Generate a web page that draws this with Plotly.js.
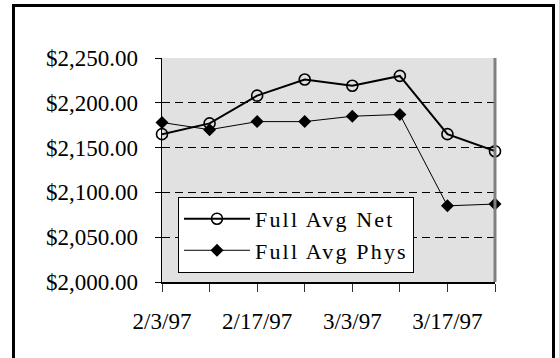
<!DOCTYPE html>
<html>
<head>
<meta charset="utf-8">
<script src="https://cdn.plot.ly/plotly-3.0.1.min.js"></script>
<style>
  html, body { margin: 0; padding: 0; background: #fff; overflow: hidden; }
  #wrap { position: relative; width: 559px; height: 358px; }
  #chart { position: absolute; left: 0; top: 0; width: 559px; height: 358px; }
  #frame {
    position: absolute; left: 12px; top: 4px; width: 537px; height: 370px;
    border: 3px solid #000; border-bottom: none; pointer-events: none;
  }
  /* looser tracking for the legend labels */
  .legendtext { letter-spacing: 2.2px; }
</style>
</head>
<body>
<div id="wrap">
  <div id="chart"></div>
  <div id="frame"></div>
</div>
<script>
// Weekly dates and tick labels (every other week labelled)
const weeks = ['2/3/97', '2/10/97', '2/17/97', '2/24/97', '3/3/97', '3/10/97', '3/17/97', '3/24/97'];
const weekLabels = ['2/3/97', '', '2/17/97', '', '3/3/97', '', '3/17/97', ''];

// Average values per week
const fullAvgNet = [2165, 2177, 2208, 2226, 2219, 2230, 2165, 2146];
const fullAvgPhys = [2178, 2170, 2179, 2179, 2185, 2187, 2085, 2087];

const serif = "'Liberation Serif', 'Times New Roman', Times, serif";

const traces = [
  {
    name: 'Full Avg Net',
    x: weeks,
    y: fullAvgNet,
    type: 'scatter',
    mode: 'lines+markers',
    cliponaxis: false,
    line: { color: '#000', width: 2 },
    marker: { symbol: 'circle-open', size: 11, color: '#000', line: { color: '#000', width: 1.6 } }
  },
  {
    name: 'Full Avg Phys',
    x: weeks,
    y: fullAvgPhys,
    type: 'scatter',
    mode: 'lines+markers',
    cliponaxis: false,
    line: { color: '#000', width: 1 },
    marker: { symbol: 'diamond', size: 10, color: '#000' }
  }
];

const layout = {
  width: 559,
  height: 358,
  margin: { l: 162, r: 64, t: 58, b: 76 },
  paper_bgcolor: '#fff',
  plot_bgcolor: '#e1e1e1',
  font: { family: serif, size: 23, color: '#000' },
  showlegend: true,
  legend: {
    x: 0.048, y: 0.38, xanchor: 'left', yanchor: 'top',
    bgcolor: '#fff', bordercolor: '#000', borderwidth: 1,
    font: { family: serif, size: 22, color: '#000' },
    itemwidth: 66
  },
  xaxis: {
    type: 'category',
    range: [0, 7],
    tickvals: weeks,
    ticktext: weekLabels,
    ticks: 'outside',
    ticklen: 8,
    tickwidth: 1,
    tickcolor: '#333',
    showline: true,
    linecolor: '#000',
    linewidth: 1.5,
    showgrid: false,
    zeroline: false,
    ticklabelstandoff: 10,
    tickfont: { family: serif, size: 23, color: '#000' }
  },
  yaxis: {
    range: [2000, 2250],
    dtick: 50,
    tick0: 2000,
    tickformat: '$,.2f',
    ticks: 'outside',
    ticklen: 6,
    tickwidth: 1,
    tickcolor: '#000',
    showline: true,
    linecolor: '#000',
    linewidth: 1.5,
    showgrid: true,
    gridcolor: '#000',
    gridwidth: 1,
    griddash: '8px,5px',
    zeroline: false,
    ticklabelstandoff: 12,
    tickfont: { family: serif, size: 23, color: '#000' }
  },
  shapes: [
    { type: 'line', xref: 'paper', yref: 'paper', x0: 1, x1: 1, y0: 0, y1: 1,
      line: { color: '#808080', width: 3 } }
  ]
};

Plotly.newPlot('chart', traces, layout, { staticPlot: true, displayModeBar: false });
</script>
</body>
</html>
